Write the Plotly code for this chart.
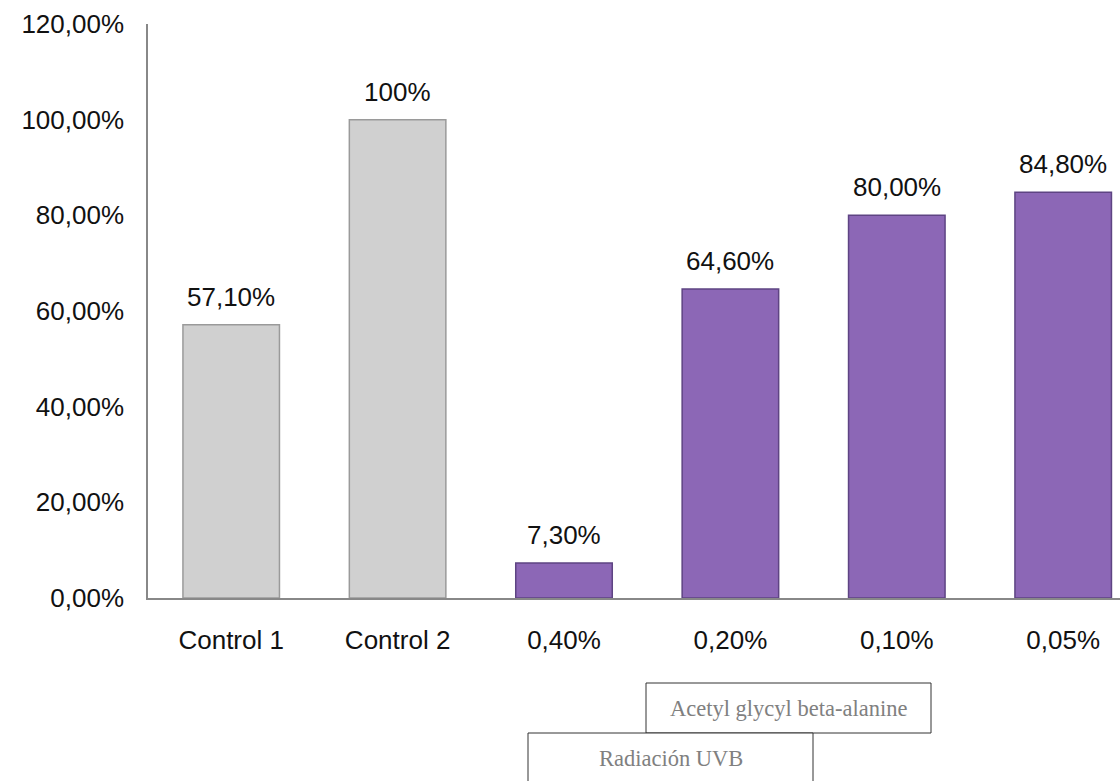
import plotly.graph_objects as go

categories = ["Control 1", "Control 2", "0,40%", "0,20%", "0,10%", "0,05%"]
values = [57.1, 100.0, 7.3, 64.6, 80.0, 84.8]
value_labels = ["57,10%", "100%", "7,30%", "64,60%", "80,00%", "84,80%"]
y_tickvals = [0, 20, 40, 60, 80, 100, 120]
y_ticktext = ["0,00%", "20,00%", "40,00%", "60,00%", "80,00%", "100,00%", "120,00%"]
group_labels = ["Acetyl glycyl beta-alanine", "Radiación UVB"]

gray, purple = "#D0D0D0", "#8C67B6"
colors = [gray, gray, purple, purple, purple, purple]
edge = ["#9A9A9A", "#9A9A9A", "#5E4483", "#5E4483", "#5E4483", "#5E4483"]

W, H = 1120, 781
L, R, T, B = 148, 0, 24, 183
pw, ph = W - L - R, H - T - B
FS = 26

fig = go.Figure()
fig.add_trace(go.Bar(
    x=categories, y=values, width=0.58,
    marker=dict(color=colors, line=dict(color=edge, width=1.5)),
    hoverinfo="skip",
))

for c, v, t in zip(categories, values, value_labels):
    fig.add_annotation(x=c, y=v, text=t, showarrow=False, yanchor="bottom",
                       yshift=11, font=dict(size=FS, color="#111111", family="Liberation Sans"))

def px2paper(x, y):
    return (x - L) / pw, (H - B - y) / ph

boxes = [(646, 683, 931, 733), (528, 733, 813, 800)]
for (x0, y0, x1, y1), lab in zip(boxes, group_labels):
    a0 = px2paper(x0, y1)
    a1 = px2paper(x1, y0)
    fig.add_shape(type="rect", xref="paper", yref="paper", x0=a0[0], y0=a0[1], x1=a1[0], y1=a1[1],
                  line=dict(color="#333333", width=1), fillcolor="white", layer="above")
    ty = (y0 + y1) / 2 if y1 <= 781 else y0 + 25
    cx, cy = px2paper((x0 + x1) / 2, ty)
    fig.add_annotation(xref="paper", yref="paper", x=cx, y=cy, text=lab, showarrow=False,
                       xanchor="center", yanchor="middle",
                       font=dict(size=22.5, color="#808080", family="Liberation Serif"))

fig.update_layout(
    width=W, height=H,
    margin=dict(l=L, r=R, t=T, b=B, pad=0),
    paper_bgcolor="white", plot_bgcolor="white",
    showlegend=False,
    font=dict(family="Liberation Sans", size=FS, color="#111111"),
)
fig.update_xaxes(range=[-0.5, -0.5 + pw / 166.4], showgrid=False, showline=True,
                 linecolor="#888888", linewidth=1.5, ticks="", zeroline=False,
                 tickfont=dict(size=FS, family="Liberation Sans", color="#111111"), ticklabelstandoff=18)
fig.update_yaxes(range=[0, 120], tickvals=y_tickvals, ticktext=y_ticktext, showgrid=False,
                 showline=True, linecolor="#888888", linewidth=1.5, ticks="", zeroline=False,
                 tickfont=dict(size=FS, family="Liberation Sans", color="#111111"), ticklabelstandoff=17)

fig.write_html("out.html")
